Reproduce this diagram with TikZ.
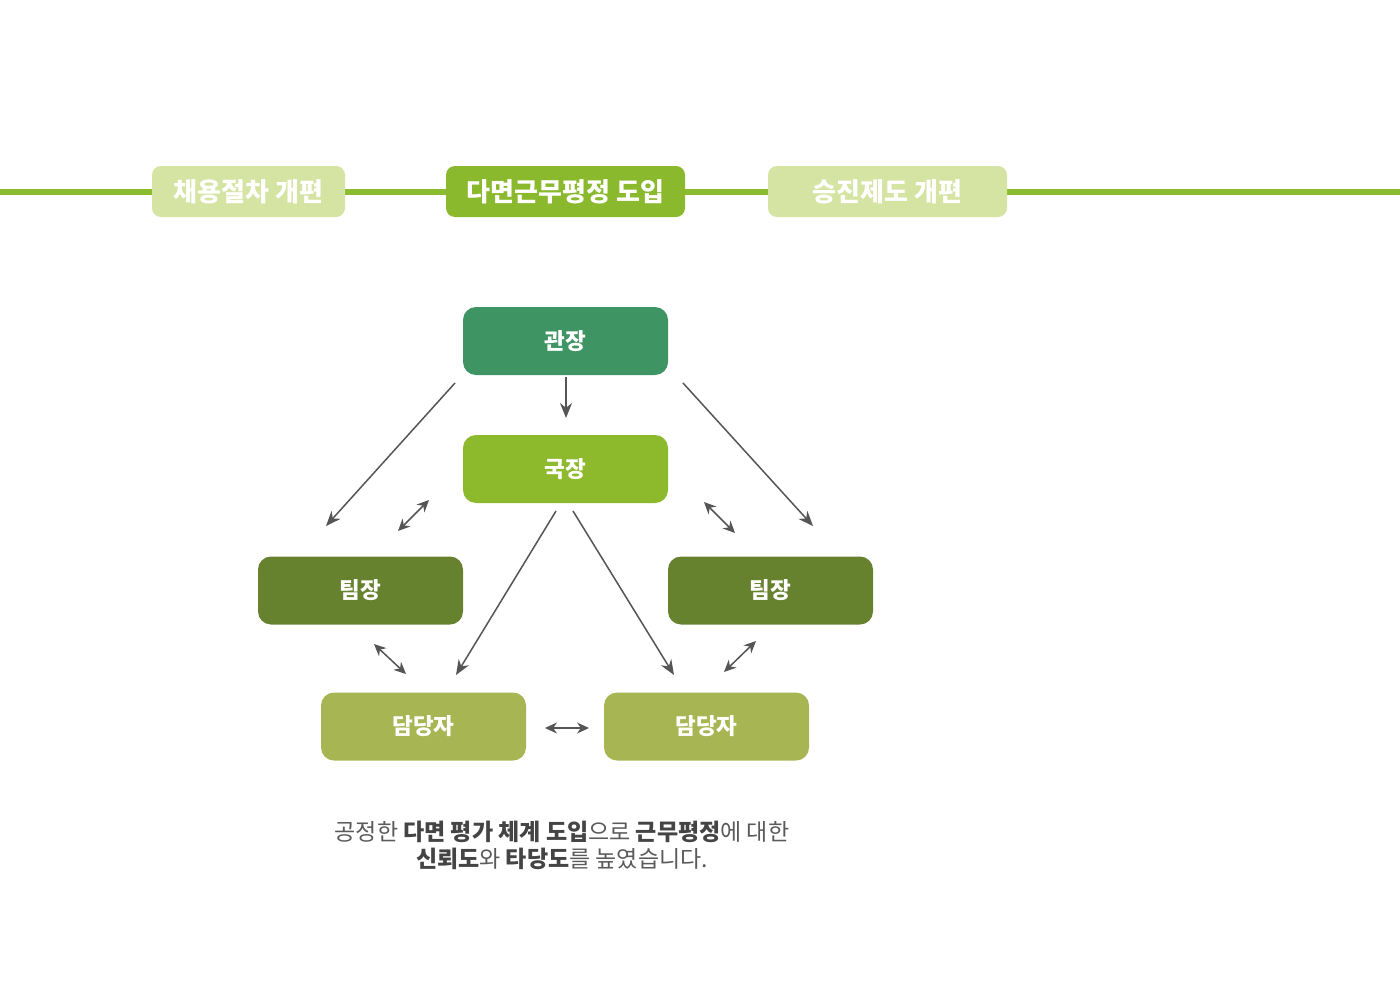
\documentclass[tikz,border=0pt]{standalone}
\usepackage{fontspec}
\setmainfont{Noto Sans CJK KR}
\usetikzlibrary{arrows.meta}
\definecolor{lineg}{HTML}{8BBB2E}
\definecolor{lightg}{HTML}{D5E3A3}
\definecolor{darkbox}{HTML}{8AB92D}
\definecolor{gwan}{HTML}{3F9464}
\definecolor{guk}{HTML}{8CBA2C}
\definecolor{tim}{HTML}{67822F}
\definecolor{dam}{HTML}{A7B652}
\definecolor{arr}{HTML}{555555}
\definecolor{cap}{HTML}{5A5A5A}
\definecolor{capb}{HTML}{444444}
\newcommand{\bb}[1]{\textbf{\color{capb}#1}}
\tikzset{
  topbox/.style={rounded corners=9pt, minimum height=51pt, text=white, font=\bfseries\fontsize{26}{28}\selectfont, inner sep=0pt},
  orgbox/.style={rounded corners=13pt, minimum width=205pt, minimum height=68pt, text=white, font=\bfseries\fontsize{22.5}{24}\selectfont, inner sep=0pt},
  conn/.style={draw=arr, line width=1.5pt, -{Stealth[length=15pt,width=12pt]}},
  dconn/.style={draw=arr, line width=1.5pt, {Stealth[length=12pt,width=11pt]}-{Stealth[length=12pt,width=11pt]}}
}
\begin{document}
\begin{tikzpicture}[x=1pt,y=-1pt]
\useasboundingbox (0,0) rectangle (1400,990);
\fill[white] (0,0) rectangle (1400,990);
% timeline
\coordinate (L0) at (0,192);
\coordinate (L1) at (1400,192);
\draw[lineg, line width=6pt] (L0) -- (L1);
\node[topbox, fill=lightg, minimum width=193pt] (t1) at (248.5,191.5) {채용절차 개편};
\node[topbox, fill=darkbox, minimum width=239pt] (t2) at (565.5,191.5) {다면근무평정 도입};
\node[topbox, fill=lightg, minimum width=239pt] (t3) at (887.5,191.5) {승진제도 개편};
% org
\node[orgbox, fill=gwan] (gw) at (565.5,341) {관장};
\node[orgbox, fill=guk] (gk) at (565.5,469) {국장};
\node[orgbox, fill=tim] (tl) at (360.5,590.5) {팀장};
\node[orgbox, fill=tim] (tr) at (770.5,590.5) {팀장};
\node[orgbox, fill=dam] (dl) at (423.5,726.5) {담당자};
\node[orgbox, fill=dam] (dr) at (706.5,726.5) {담당자};
% arrow ends
\coordinate (a1s) at (566,377); \coordinate (a1e) at (566,418);
\coordinate (a2s) at (455,383); \coordinate (a2e) at (326,526);
\coordinate (a3s) at (683,383); \coordinate (a3e) at (813,526);
\coordinate (d1s) at (429,500); \coordinate (d1e) at (398,531);
\coordinate (d2s) at (704,502); \coordinate (d2e) at (735,533);
\coordinate (d3s) at (374,644); \coordinate (d3e) at (406,674);
\coordinate (d4s) at (756,641); \coordinate (d4e) at (724,672);
\coordinate (d5s) at (545,728); \coordinate (d5e) at (589,728);
\coordinate (a4s) at (556,511); \coordinate (a4e) at (456,675);
\coordinate (a5s) at (573,511); \coordinate (a5e) at (674,675);
\draw[conn] (a1s) -- (a1e);
\draw[conn] (a2s) -- (a2e);
\draw[conn] (a3s) -- (a3e);
\draw[conn] (a4s) -- (a4e);
\draw[conn] (a5s) -- (a5e);
\draw[dconn] (d1s) -- (d1e);
\draw[dconn] (d2s) -- (d2e);
\draw[dconn] (d3s) -- (d3e);
\draw[dconn] (d4s) -- (d4e);
\draw[dconn] (d5s) -- (d5e);
% caption
\node[text=cap, font=\fontsize{23}{27}\selectfont, align=center, inner sep=0pt] (capt) at (562,845)
 {공정한 \bb{다면 평가 체계 도입}으로 \bb{근무평정}에 대한\\\bb{신뢰도}와 \bb{타당도}를 높였습니다.};
\end{tikzpicture}
\end{document}
